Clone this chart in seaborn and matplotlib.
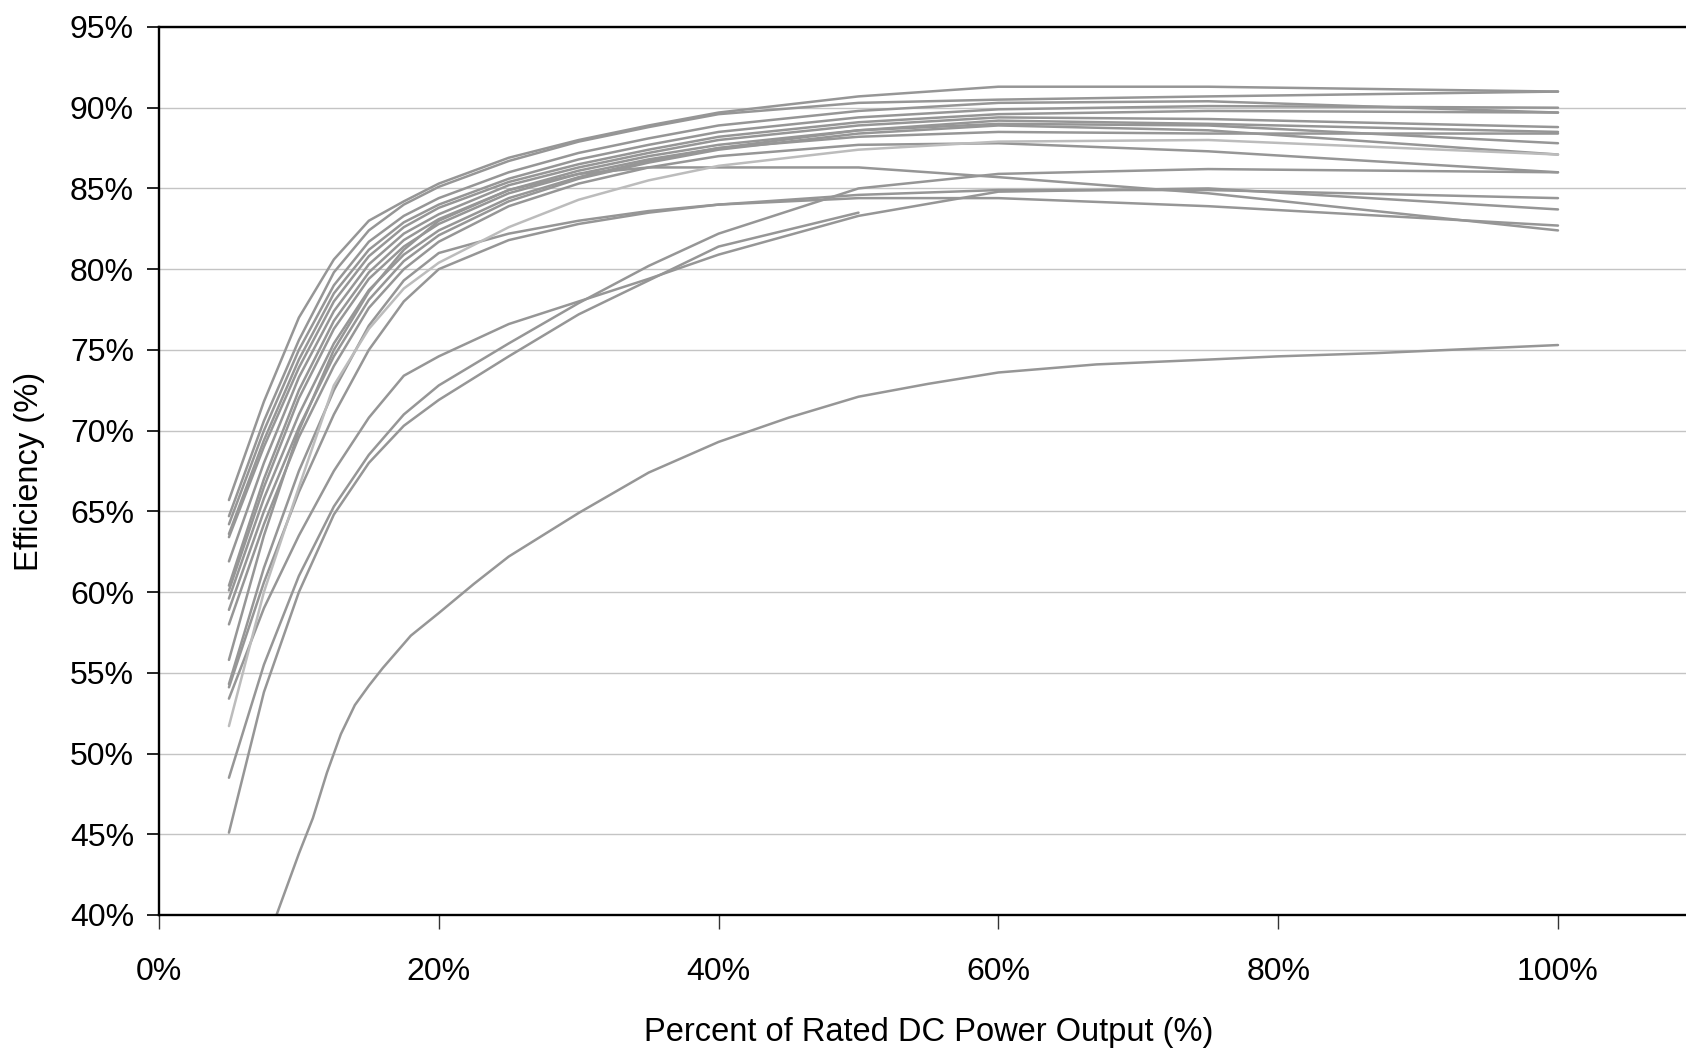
import numpy as np
import pandas as pd
import seaborn as sns
import matplotlib
matplotlib.use("Agg")
import matplotlib.pyplot as plt
from matplotlib.ticker import PercentFormatter

# ---------------- data ----------------
load_pct = [5, 7.5, 10, 12.5, 15, 17.5, 20, 25, 30, 35, 40, 50, 60, 75, 100]

inv_01 = [65.7, 71.8, 77.0, 80.6, 83.0, 84.2, 85.3, 86.9, 88.0, 88.9, 89.7, 90.7, 91.3, 91.3, 91.0]
inv_02 = [64.7, 70.6, 75.6, 79.8, 82.4, 84.0, 85.1, 86.7, 87.9, 88.8, 89.6, 90.3, 90.5, 90.7, 91.0]
inv_03 = [64.2, 70.0, 75.0, 79.0, 81.7, 83.3, 84.4, 86.0, 87.2, 88.1, 88.9, 89.8, 90.3, 90.4, 89.7]
inv_04 = [63.6, 69.4, 74.4, 78.5, 81.2, 82.9, 84.0, 85.6, 86.8, 87.7, 88.5, 89.4, 89.9, 90.1, 90.0]
inv_05 = [63.4, 69.0, 73.9, 78.0, 80.8, 82.6, 83.8, 85.4, 86.5, 87.4, 88.2, 89.1, 89.6, 89.8, 89.7]
inv_06 = [61.9, 68.0, 73.3, 77.4, 80.3, 82.2, 83.4, 85.2, 86.3, 87.2, 88.0, 88.9, 89.4, 89.3, 88.8]
inv_07 = [60.4, 67.0, 72.5, 76.8, 79.8, 81.8, 83.1, 84.9, 86.1, 87.0, 87.7, 88.6, 89.2, 89.0, 88.5]
inv_08 = [60.1, 66.5, 72.0, 76.3, 79.4, 81.4, 82.8, 84.7, 85.9, 86.8, 87.5, 88.2, 88.5, 88.4, 88.4]
inv_09 = [59.6, 65.8, 71.0, 75.4, 78.7, 80.9, 82.4, 84.4, 85.7, 86.7, 87.5, 88.6, 89.0, 88.9, 87.8]
inv_10 = [58.9, 65.0, 70.2, 74.6, 78.1, 80.5, 82.1, 84.2, 85.6, 86.6, 87.4, 88.4, 88.9, 88.6, 87.1]
inv_11 = [58.0, 64.2, 69.6, 74.0, 77.6, 80.0, 81.7, 83.9, 85.3, 86.3, 87.0, 87.7, 87.8, 87.3, 86.0]
inv_12 = [55.8, 63.5, 70.0, 75.0, 78.6, 81.2, 83.0, 84.9, 85.9, 86.3, 86.3, 86.3, 85.7, 84.7, 82.4]
inv_13 = [54.3, 61.5, 67.5, 72.5, 76.5, 79.3, 81.0, 82.2, 83.0, 83.6, 84.0, 84.6, 84.9, 84.9, 84.4]
inv_14 = [54.1, 60.6, 66.2, 71.0, 75.0, 78.0, 80.0, 81.8, 82.8, 83.5, 84.0, 84.4, 84.4, 83.9, 82.7]
inv_16 = [53.4, 59.0, 63.5, 67.5, 70.8, 73.4, 74.6, 76.6, 78.0, 79.4, 80.9, 83.3, 84.8, 85.0, 83.7]
inv_17 = [48.5, 55.5, 61.0, 65.3, 68.5, 71.0, 72.8, 75.4, 77.9, 80.2, 82.2, 85.0, 85.9, 86.2, 86.0]
inv_18 = [45.1, 53.8, 60.0, 64.8, 68.0, 70.3, 71.9, 74.6, 77.2, 79.3, 81.4, 83.5]   # ends at 50 %

# lighter grey curve
inv_15 = [51.7, 60.0, 66.5, 72.8, 76.3, 78.8, 80.4, 82.6, 84.3, 85.5, 86.4, 87.4, 87.9, 88.0, 87.1]

# lowest curve (own measurement points)
low_x = [8.4, 10, 11, 12, 13, 14, 15, 16, 18, 20, 22.5, 25, 30, 35, 40, 45, 50, 55, 60, 67, 75, 80, 87, 100]
low_eff = [40.0, 43.8, 46.0, 48.8, 51.2, 53.0, 54.2, 55.3, 57.3, 58.7, 60.5, 62.2, 64.9, 67.4,
           69.3, 70.8, 72.1, 72.9, 73.6, 74.1, 74.4, 74.6, 74.8, 75.3]

dark_curves = {
    "inv_01": inv_01, "inv_02": inv_02, "inv_03": inv_03, "inv_04": inv_04,
    "inv_05": inv_05, "inv_06": inv_06, "inv_07": inv_07, "inv_08": inv_08,
    "inv_09": inv_09, "inv_10": inv_10, "inv_11": inv_11, "inv_12": inv_12,
    "inv_13": inv_13, "inv_14": inv_14, "inv_16": inv_16, "inv_17": inv_17,
    "inv_18": inv_18,
}

rows = []
for name, vals in dark_curves.items():
    for x, y in zip(load_pct, vals):
        rows.append((name, x, y))
for x, y in zip(low_x, low_eff):
    rows.append(("inv_low", x, y))
df_dark = pd.DataFrame(rows, columns=["unit", "load", "eff"])

df_light = pd.DataFrame({"unit": "inv_15", "load": load_pct, "eff": inv_15})

# ---------------- figure ----------------
sns.set_style("white")
plt.rcParams["font.family"] = ["Liberation Sans", "DejaVu Sans"]
plt.rcParams["text.color"] = "black"
plt.rcParams["axes.labelcolor"] = "black"
plt.rcParams["xtick.color"] = "black"
plt.rcParams["ytick.color"] = "black"

fig = plt.figure(figsize=(16.86, 10.54), dpi=100)
ax = fig.add_axes([0.0943, 0.1319, 0.9057, 0.8425])

ax.yaxis.grid(True, color="#C4C4C4", linewidth=1.0)
ax.set_axisbelow(True)

sns.lineplot(data=df_dark, x="load", y="eff", units="unit", estimator=None,
             color="#969696", linewidth=1.8, ax=ax, sort=True, legend=False)
sns.lineplot(data=df_light, x="load", y="eff", units="unit", estimator=None,
             color="#BCBCBC", linewidth=1.8, ax=ax, sort=True, legend=False)

ax.set_xlim(0, 109.15)
ax.set_ylim(40, 95)
ax.set_xticks([0, 20, 40, 60, 80, 100])
ax.set_yticks(np.arange(40, 96, 5))
ax.xaxis.set_major_formatter(PercentFormatter(xmax=100, decimals=0))
ax.yaxis.set_major_formatter(PercentFormatter(xmax=100, decimals=0))

for s in ["left", "bottom", "top"]:
    ax.spines[s].set_color("black")
    ax.spines[s].set_linewidth(1.7)
ax.spines["right"].set_visible(False)

ax.tick_params(axis="y", which="major", direction="out", length=9, width=1.2,
               color="black", labelcolor="black", labelsize=23, pad=9, left=True)
ax.tick_params(axis="x", which="major", direction="out", length=10, width=1.0,
               color="#333333", labelcolor="black", labelsize=23, pad=20, bottom=True)

ax.set_xlabel("Percent of Rated DC Power Output (%)", fontsize=23.5, color="black")
ax.set_ylabel("Efficiency (%)", fontsize=23.5, color="black")
ax.xaxis.label.set_va("center")
ax.yaxis.label.set_va("center")
ax.xaxis.set_label_coords(0.504, -0.132)
ax.yaxis.set_label_coords(-0.0845, 0.5)

fig.savefig("out.png", dpi=100)
